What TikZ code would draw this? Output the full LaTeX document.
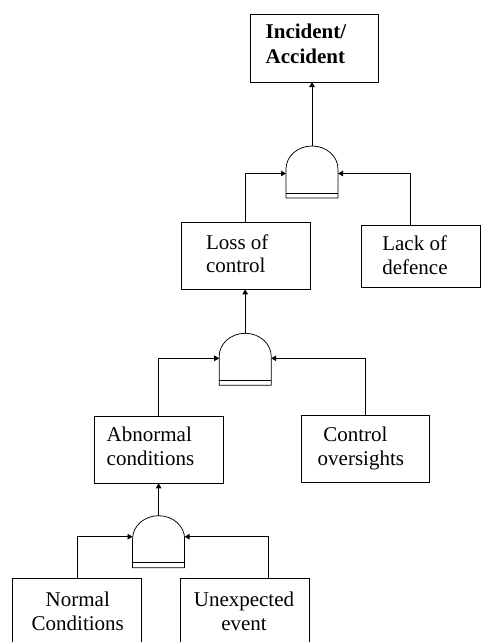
\documentclass[tikz,border=0pt]{standalone}
\usepackage{fontspec}
\setmainfont{Liberation Serif}
\usetikzlibrary{arrows.meta}
\begin{document}
\begin{tikzpicture}[x=1pt,y=-1pt,
  box/.style={draw=black,line width=0.75pt,inner sep=0pt,outer sep=0pt},
  lbl/.style={inner sep=0pt,outer sep=0pt,font=\fontsize{21pt}{23.5pt}\selectfont},
  conn/.style={draw=black,line width=0.75pt,-{Triangle[length=5pt,width=5.5pt]}},
  gateline/.style={draw=black,line width=0.75pt},
  andgate/.pic={
    \draw[gateline] (-26,29) -- (-26,0) arc[start angle=180,end angle=360,x radius=26,y radius=23] -- (26,29) -- cycle;
    \draw[gateline] (-26,24) -- (26,24);
  }]
\path[use as bounding box] (0,0) rectangle (481,642);
\clip (0,0) rectangle (481,642);

% boxes
\node[box,minimum width=128pt,minimum height=68pt] (inc) at (314,48) {};
\node[box,minimum width=129.3pt,minimum height=67.3pt] (loss) at (245.65,255.65) {};
\node[box,minimum width=119pt,minimum height=62.3pt] (lack) at (420.5,256.15) {};
\node[box,minimum width=129pt,minimum height=67.3pt] (abn) at (158.8,449.65) {};
\node[box,minimum width=128.3pt,minimum height=67pt] (ctrl) at (365.15,449.2) {};
\node[box,minimum width=129.4pt,minimum height=67pt] (norm) at (77,611.8) {};
\node[box,minimum width=129.4pt,minimum height=67pt] (unexp) at (245,611.8) {};

% texts (base anchor = baseline of the last line)
\node[lbl,anchor=base west,align=left,font=\fontsize{21pt}{24.3pt}\selectfont\bfseries] (incT) at (265.7,63.3) {Incident/\\Accident};
\node[lbl,anchor=base west,align=left] (lossT) at (206,272.7) {Loss of\\control};
\node[lbl,anchor=base west,align=left] (lackT) at (382.3,274) {Lack of\\defence};
\node[lbl,anchor=base west,align=left] (abnT) at (106.7,465) {Abnormal\\conditions};
\node[lbl,anchor=base west,align=left] (ctrlT) at (317.7,465) {\hspace*{5.6pt}Control\\oversights};
\node[lbl,anchor=base,align=center] (normT) at (77.8,630) {Normal\\Conditions};
\node[lbl,anchor=base,align=center] (unexpT) at (244,630) {Unexpected\\event};

% gates
\pic at (312,169) {andgate};
\pic at (245.2,356.3) {andgate};
\pic at (158.6,538.7) {andgate};
\coordinate (g1t) at (312,146);
\coordinate (g1l) at (286,173.5);
\coordinate (g1r) at (338,173.5);
\coordinate (g2t) at (245.2,333.3);
\coordinate (g2l) at (219.2,358.3);
\coordinate (g2r) at (271.2,358.3);
\coordinate (g3t) at (158.6,515.7);
\coordinate (g3l) at (132.6,536.7);
\coordinate (g3r) at (184.6,536.7);

% connectors
\draw[conn] (g1t) -- (g1t |- inc.south);
\draw[conn] (loss.north) |- (g1l);
\draw[conn] ([xshift=49pt]lack.north west) |- (g1r);
\draw[conn] (g2t) -- (g2t |- loss.south);
\draw[conn] (abn.north) |- (g2l);
\draw[conn] (ctrl.north) |- (g2r);
\draw[conn] (g3t) -- (g3t |- abn.south);
\draw[conn] (norm.north) |- (g3l);
\draw[conn] ([xshift=87.7pt]unexp.north west) |- (g3r);
\end{tikzpicture}
\end{document}
